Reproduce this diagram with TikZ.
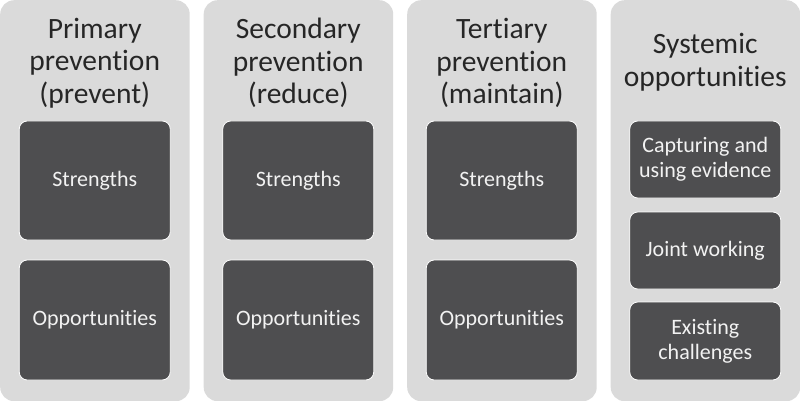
\documentclass[tikz,border=0pt]{standalone}
\usepackage{fontspec}
\setmainfont{Carlito}[Ligatures=NoCommon]
\definecolor{cardgray}{HTML}{DADADA}
\definecolor{boxgray}{HTML}{4E4E50}
\definecolor{headtext}{HTML}{262626}
\definecolor{boxtext}{HTML}{F2F2F2}
\begin{document}
\begin{tikzpicture}[x=1pt,y=-1pt,
  card/.style={fill=cardgray, draw=none, rounded corners=14pt, minimum width=189.5pt, minimum height=401pt, inner sep=0pt, anchor=north west},
  head/.style={text=headtext, align=center, font=\fontsize{29.5}{32.5}\selectfont},
  darkbox/.style={fill=boxgray, draw=white, line width=0.8pt, rounded corners=8pt, minimum width=151pt, inner sep=0pt, text=boxtext, align=center, font=\fontsize{22}{25}\selectfont},
]
\useasboundingbox (0,0) rectangle (800,401);
% cards
\node[card] (c1) at (0,0) {};
\node[card] (c2) at (203.5,0) {};
\node[card] (c3) at (407,0) {};
\node[card] (c4) at (610.5,0) {};
% headings
\node[head] (h1) at (94.75,63) {Primary\\prevention\\(prevent)};
\node[head] (h2) at (298.25,63) {Secondary\\prevention\\(reduce)};
\node[head] (h3) at (501.75,63) {Tertiary\\prevention\\(maintain)};
\node[head] (h4) at (705.25,62) {Systemic\\opportunities};
% columns 1-3
\node[darkbox, minimum height=119pt] (s1) at (94.75,180.5) {Strengths};
\node[darkbox, minimum height=120pt] (o1) at (94.75,320) {Opportunities};
\node[darkbox, minimum height=119pt] (s2) at (298.25,180.5) {Strengths};
\node[darkbox, minimum height=120pt] (o2) at (298.25,320) {Opportunities};
\node[darkbox, minimum height=119pt] (s3) at (501.75,180.5) {Strengths};
\node[darkbox, minimum height=120pt] (o3) at (501.75,320) {Opportunities};
% column 4
\node[darkbox, minimum height=77pt] (e4) at (705.25,159.5) {Capturing and\\using evidence};
\node[darkbox, minimum height=77pt] (j4) at (705.25,250.5) {Joint working};
\node[darkbox, minimum height=78pt] (x4) at (705.25,341) {Existing\\challenges};
\end{tikzpicture}
\end{document}
